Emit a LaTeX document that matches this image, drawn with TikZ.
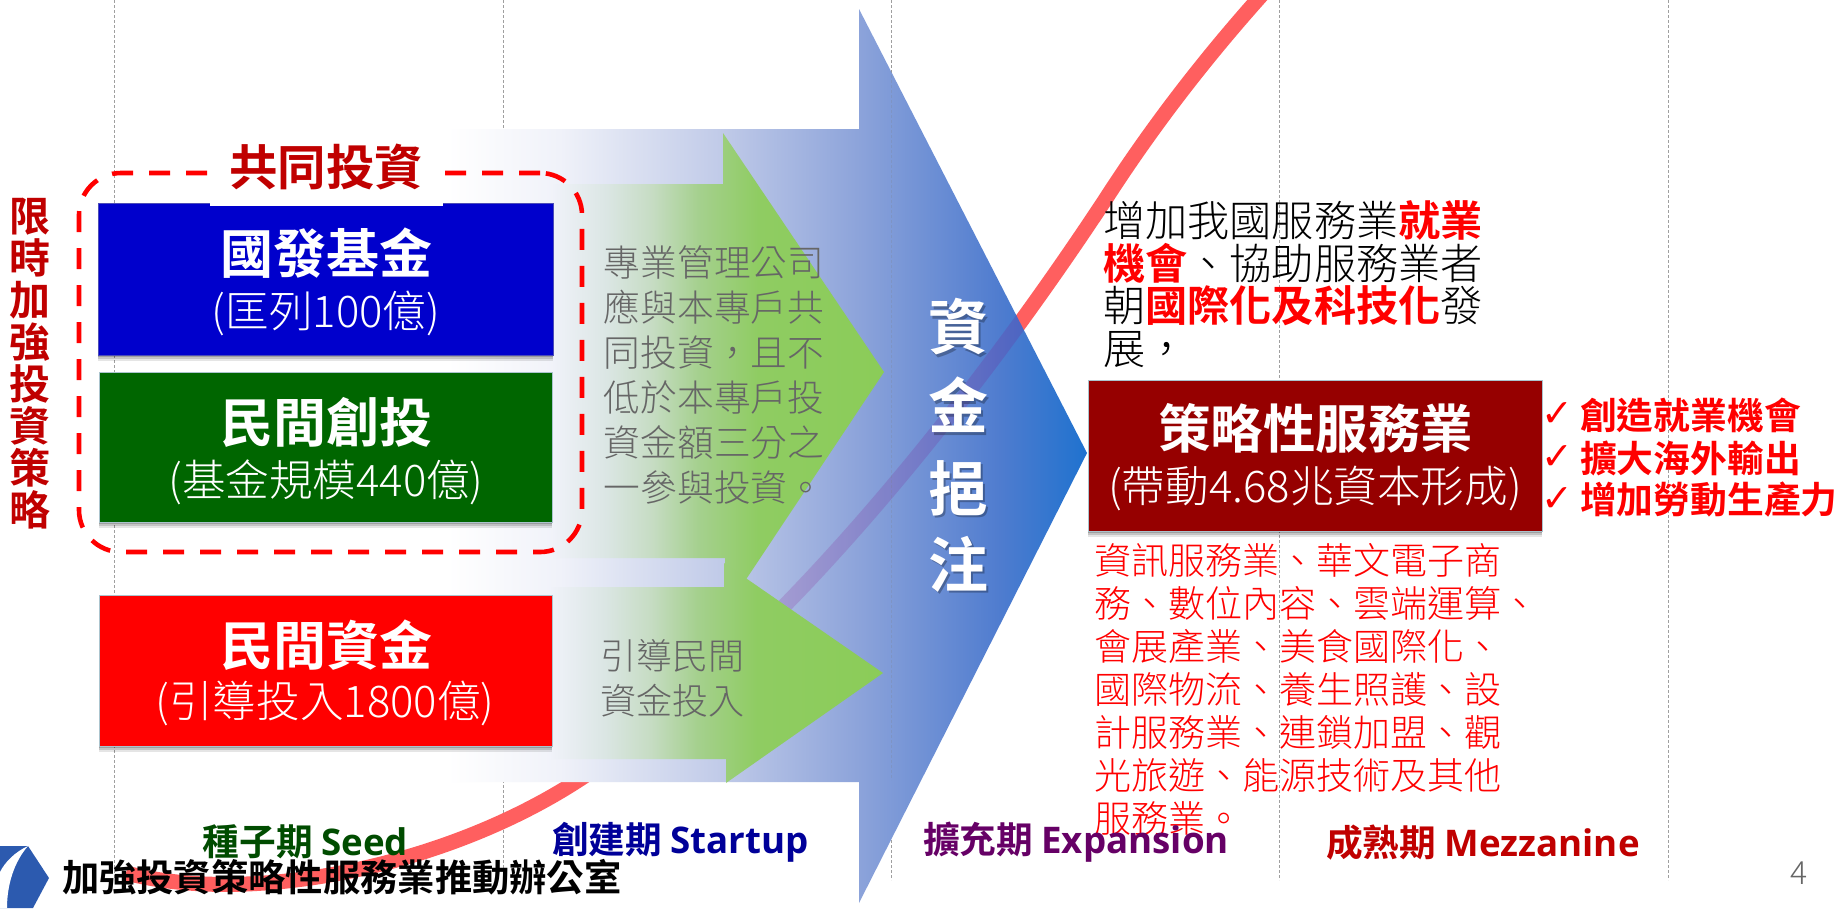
\documentclass[tikz,border=0pt]{standalone}
\usepackage{fontspec}
\setmainfont{Noto Sans CJK TC Light}[BoldFont={Noto Sans CJK TC Bold}]
\newfontfamily\latinb{Open Sans}
\newfontfamily\checkf{DejaVu Sans}
\normallineskiplimit=-100pt
\lineskiplimit=-100pt
\definecolor{bigZ}{HTML}{F0F2F9}
\definecolor{bigA}{HTML}{C0CAE8}
\definecolor{bigB}{HTML}{8CA3DA}
\definecolor{bigC}{HTML}{4F7CCF}
\definecolor{bigD}{HTML}{1F72CF}
\definecolor{grA}{HTML}{F0F2F9}
\definecolor{grB}{HTML}{DBE6E4}
\definecolor{grC}{HTML}{C6DCC3}
\definecolor{grD}{HTML}{A5D08E}
\definecolor{grE}{HTML}{8FCC62}
\definecolor{grF}{HTML}{8BCC58}
\definecolor{curveR}{HTML}{FF5F5F}
\definecolor{darkR}{HTML}{C00000}
\definecolor{txtG}{HTML}{666666}
\definecolor{logoB}{HTML}{2C5AAF}
\pgfdeclarehorizontalshading{bigshade}{100bp}{color(0bp)=(white); color(25bp)=(white); color(33.8bp)=(bigZ); color(46.5bp)=(bigA); color(57.25bp)=(bigB); color(68.2bp)=(bigC); color(75bp)=(bigD); color(100bp)=(bigD)}
\pgfdeclarehorizontalshading{greenshade}{100bp}{color(0bp)=(grA); color(25bp)=(grA); color(33bp)=(grB); color(40bp)=(grC); color(47bp)=(grD); color(56bp)=(grE); color(75bp)=(grF); color(100bp)=(grF)}
\tikzset{
  lab/.style={inner sep=0pt,outer sep=0pt},
  grid line/.style={draw=gray!75,line width=.9pt,dash pattern=on 3pt off 2pt},
  shadowbox/.style={lab,minimum width=#1,
    preaction={fill=black,opacity=.10,transform canvas={yshift=-6pt}},
    preaction={fill=black,opacity=.14,transform canvas={yshift=-4pt}},
    preaction={fill=black,opacity=.18,transform canvas={yshift=-2pt}}},
  redcurve/.style={line width=15pt},
}
\newcommand{\curvepath}{(126,873) .. controls (250,905) and (440,868) .. (574,783) .. controls (760,665) and (960,420) .. (1105,200) .. controls (1150,130) and (1203,60) .. (1268,-12)}
\begin{document}
\begin{tikzpicture}[x=1pt,y=-1pt,line join=miter]
\useasboundingbox (0,0) rectangle (1843,908);
\fill[white] (0,0) rectangle (1843,908);
% grid
\foreach \gx in {114,503,891,1279,1668}
  \draw[grid line] (\gx,0) -- (\gx,880);
% curve
\draw[curveR,redcurve] \curvepath;
% big arrow
\shade[shading=bigshade] (447,129) -- (859,129) -- (859,9) -- (1087,453) -- (859,903) -- (859,782) -- (447,782) -- cycle;
% curve seen through the big arrow
\begin{scope}
  \clip (720,129) -- (859,129) -- (859,9) -- (1087,453) -- (859,903) -- (859,782) -- (720,782) -- cycle;
  \draw[violet,opacity=.16,redcurve] \curvepath;
\end{scope}
\draw[gray,opacity=.22,line width=.9pt,dash pattern=on 3pt off 2pt] (891,60) -- (891,780);
% green arrows
\shade[shading=greenshade] (553,184) -- (723,184) -- (723,133) -- (884,372) -- (725,611) -- (725,558) -- (553,558) -- cycle;
\shade[shading=greenshade] (551,587) -- (724,587) -- (724,563) -- (883,673) -- (726,783) -- (726,759) -- (551,759) -- cycle;
% dashed group
\node[lab,draw=red,line width=4.6pt,rounded corners=42pt,dash pattern=on 21pt off 16pt,minimum width=503pt,minimum height=379pt] (group) at (330.5,362.5) {};
% boxes
\node[shadowbox=455pt,minimum height=152pt,fill=blue!80!black,draw=blue!60!black!70!white,line width=1pt] (fund) at (325.5,279) {};
\fill[white] (210,150) rectangle (443,206);
\node[lab,text=darkR,font=\fontsize{48.5}{48.5}\selectfont\bfseries] (joint) at (326,167) {共同投資};
\node[lab,text=white,font=\fontsize{53}{53}\selectfont\bfseries] (fundt) at (326,253) {國發基金};
\node[lab,text=white,font=\fontsize{43.6}{44}\selectfont] (fundsub) at (326,313) {(匡列100億)};
\node[shadowbox=453pt,minimum height=150pt,fill=green!40!black,draw=cyan!30!gray!60!white,line width=1pt] (vc) at (325.5,447) {};
\node[lab,text=white,font=\fontsize{53}{53}\selectfont\bfseries] (vct) at (326,422) {民間創投};
\node[lab,text=white,font=\fontsize{43.6}{44}\selectfont] (vcsub) at (326,482) {(基金規模440億)};
\node[shadowbox=453pt,minimum height=151pt,fill=red,draw=cyan!30!gray!60!white,line width=1pt] (pri) at (325.5,670.5) {};
\node[lab,text=white,font=\fontsize{53}{53}\selectfont\bfseries] (prit) at (326,645) {民間資金};
\node[lab,text=white,font=\fontsize{43.6}{44}\selectfont] (prisub) at (325,703) {(引導投入1800億)};
\node[shadowbox=454pt,minimum height=151pt,fill=red!59!black,draw=cyan!30!gray!60!white,line width=1pt] (srv) at (1315,455.5) {};
\node[lab,text=white,font=\fontsize{52.5}{53}\selectfont\bfseries] (srvt) at (1315.5,428) {策略性服務業};
\node[lab,text=white,font=\fontsize{43.6}{44}\selectfont] (srvsub) at (1315,488) {(帶動4.68兆資本形成)};
% side title
\node[lab,text=darkR,align=center,font=\fontsize{41}{42}\selectfont\bfseries] (side) at (30,364) {限\\時\\加\\強\\投\\資\\策\\略};
% grey notes
\node[lab,text=txtG,align=left,anchor=center,font=\fontsize{36.7}{45}\selectfont] (note) at (714,375) {專業管理公司\\應與本專戶共\\同投資，且不\\低於本專戶投\\資金額三分之\\一參與投資。};
\node[lab,text=txtG,align=left,anchor=west,font=\fontsize{36}{45}\selectfont] (note2) at (600,678) {引導民間\\資金投入};
% vertical title with soft shadow
\foreach \tch/\ty in {資/327,金/405,挹/488,注/564}{
  \node[lab,text=black,opacity=.28,font=\fontsize{60}{60}\selectfont\bfseries] at (960.5,\ty+2.5) {\tch};
  \node[lab,text=white,font=\fontsize{60}{60}\selectfont\bfseries] at (958,\ty) {\tch};
}
% goal text
\node[lab,text=black,align=left,anchor=west,font=\fontsize{42.2}{42.7}\selectfont] (goal) at (1103,284) {增加我國服務業\textcolor{red}{\bfseries 就業}\\\textcolor{red}{\bfseries 機會}、協助服務業者\\朝\textcolor{red}{\bfseries 國際化及科技化}發\\展，};
% check list
\foreach \cy/\ct in {415/創造就業機會,458/擴大海外輸出,500/增加勞動生產力}{
  \node[lab,text=red,font=\fontsize{38}{38}\checkf] at (1557,\cy) {✓};
  \node[lab,text=red,anchor=west,font=\fontsize{36.8}{37}\selectfont\bfseries] at (1580,\cy) {\ct};
}
% red list
\node[lab,text=red,align=left,anchor=west,font=\fontsize{37}{43}\selectfont] (list) at (1094,689) {資訊服務業、華文電子商\\務、數位內容、雲端運算、\\會展產業、美食國際化、\\國際物流、養生照護、設\\計服務業、連鎖加盟、觀\\光旅遊、能源技術及其他\\服務業。};
% stage labels
\node[lab,text=green!30!black,font=\fontsize{36.7}{37}\selectfont\bfseries] (s1) at (305.5,842) {種子期 {\latinb\bfseries Seed}};
\node[lab,text=blue!60!black,font=\fontsize{36.7}{37}\selectfont\bfseries] (s2) at (680.5,842) {創建期 {\latinb\bfseries Startup}};
\node[lab,text=violet!80!black,font=\fontsize{36.7}{37}\selectfont\bfseries] (s3) at (1076,842) {擴充期 {\latinb\bfseries Expansion}};
\node[lab,text=darkR,font=\fontsize{36.7}{37}\selectfont\bfseries] (s4) at (1483,843) {成熟期 {\latinb\bfseries Mezzanine}};
% logo and footer
\fill[logoB] (0,846) -- (28,846) -- (49,878) -- (33,908) -- (0,908) -- cycle;
\fill[white] (28,846) .. controls (15,852) and (5,862) .. (0,872) -- (0,908) -- (7,908) .. controls (7,885) and (14,862) .. cycle;
\node[lab,text=black,anchor=west,font=\fontsize{37.3}{37}\selectfont\bfseries] (foot) at (62,877) {加強投資策略性服務業推動辦公室};
\node[lab,text=txtG,font=\fontsize{32}{32}\selectfont] (page) at (1799,873) {4};
\end{tikzpicture}
\end{document}
